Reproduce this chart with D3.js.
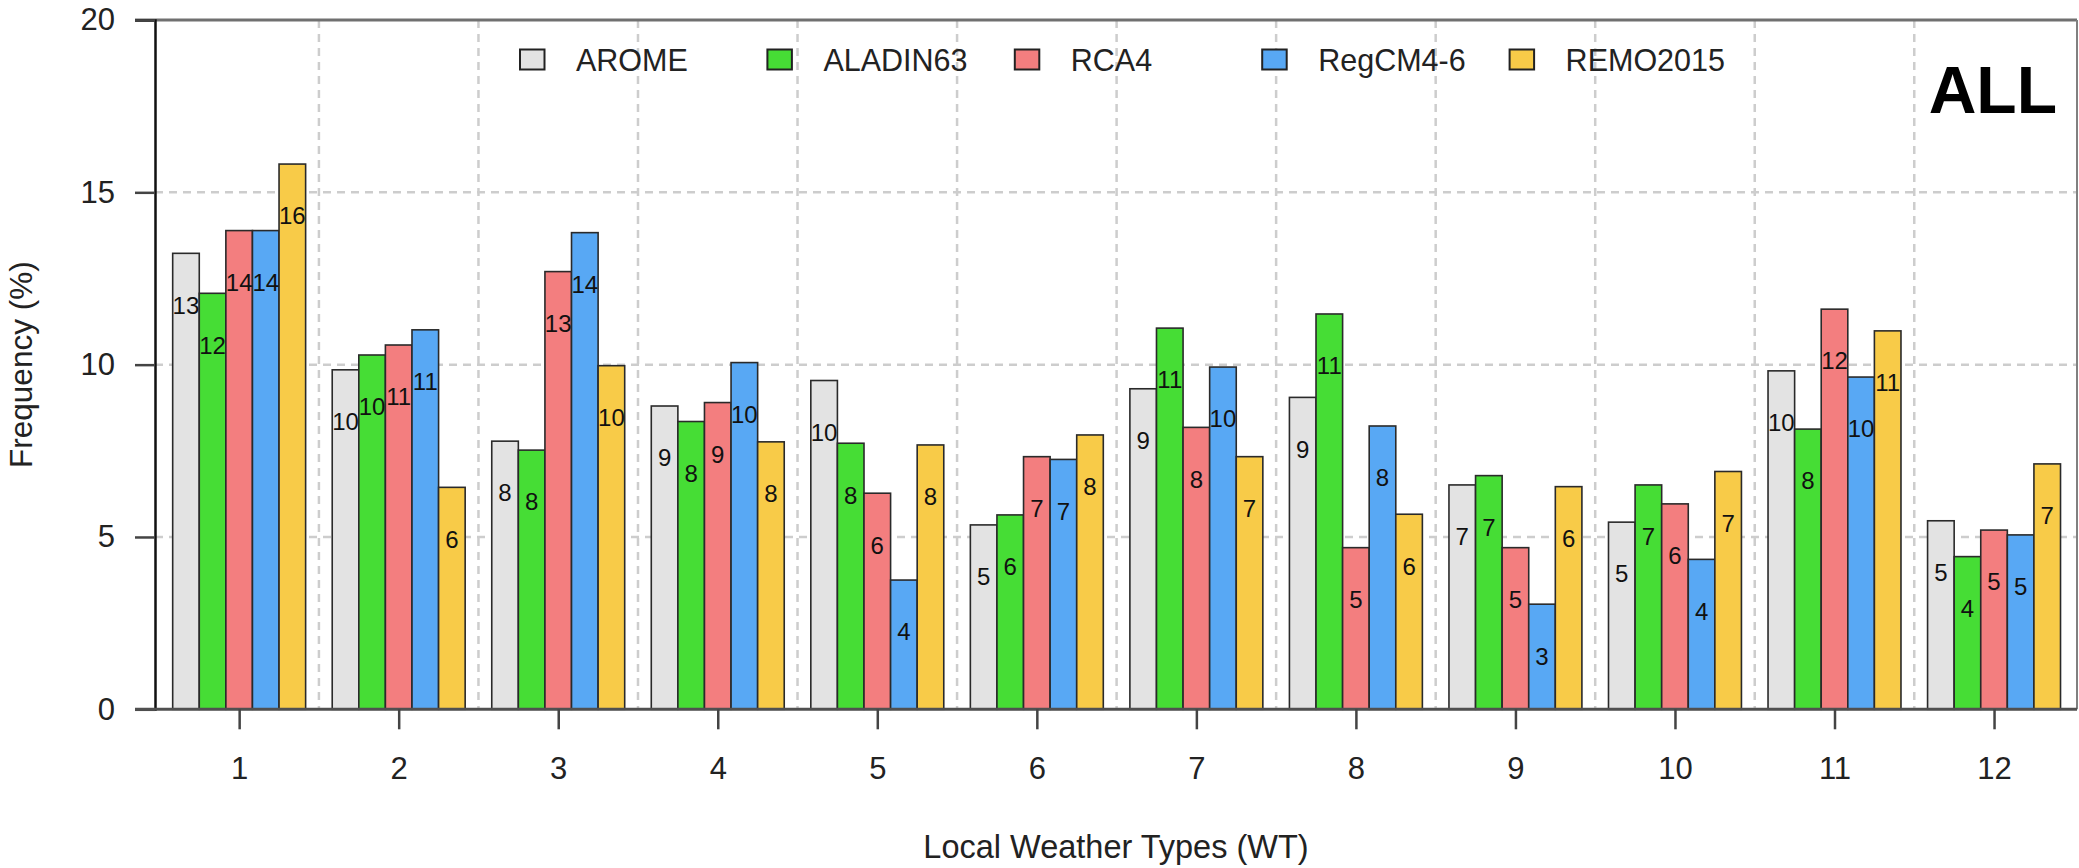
<!DOCTYPE html>
<html>
<head>
<meta charset="utf-8">
<script src="https://cdn.jsdelivr.net/npm/d3@7"></script>
<style>
  html, body { margin: 0; padding: 0; background: #fff; }
  svg { display: block; font-family: "Liberation Sans", Arial, sans-serif; }
</style>
</head>
<body>
<svg id="chart" width="2079" height="868"></svg>
<script>
// Local weather types and the five models compared
const weatherTypes = ["1", "2", "3", "4", "5", "6", "7", "8", "9", "10", "11", "12"];
const models = ["AROME", "ALADIN63", "RCA4", "RegCM4-6", "REMO2015"];
const modelColors = ["#e3e3e3", "#46dd35", "#f37e7f", "#58a8f4", "#f8cb48"];

// Frequency (%) of each weather type, one array per model
const arome    = [13.23, 9.85, 7.78, 8.80, 9.54, 5.35, 9.30, 9.05, 6.51, 5.43, 9.82, 5.47];
const aladin63 = [12.07, 10.28, 7.52, 8.35, 7.72, 5.64, 11.06, 11.47, 6.78, 6.51, 8.13, 4.43];
const rca4     = [13.89, 10.57, 12.70, 8.90, 6.27, 7.33, 8.18, 4.69, 4.69, 5.96, 11.61, 5.20];
const regcm46  = [13.89, 11.01, 13.83, 10.06, 3.75, 7.25, 9.93, 8.22, 3.05, 4.35, 9.64, 5.06];
const remo2015 = [15.82, 6.44, 9.97, 7.76, 7.67, 7.96, 7.33, 5.66, 6.46, 6.90, 10.98, 7.12];
const seriesValues = [arome, aladin63, rca4, regcm46, remo2015];

const yTicks = [0, 5, 10, 15, 20];
const panelLabel = "ALL";
const xTitle = "Local Weather Types (WT)";
const yTitle = "Frequency (%)";

const svg = d3.select("#chart");
const plotLeft = 155, plotRight = 2077, plotTop = 20, plotBottom = 709.3;

// Bars laid out in slot units: one empty slot, then five bars, per weather type
const slotsPerGroup = models.length + 1;
const x = d3.scaleLinear().domain([0.335, 72.62]).range([plotLeft, plotRight]);
const y = d3.scaleLinear().domain([0, 20]).range([plotBottom, plotTop]);

const barLeft = (g, i) => 1 + g * slotsPerGroup + i;
const groupCenter = g => 1 + g * slotsPerGroup + models.length / 2;

// Dashed grid
const grid = svg.append("g").attr("stroke", "#cdcdcd").attr("stroke-width", 2.5)
  .attr("stroke-dasharray", "8,6").attr("fill", "none");
grid.selectAll("line.h").data(yTicks.filter(v => v > 0 && v < 20)).join("line")
  .attr("class", "h")
  .attr("x1", plotLeft).attr("x2", plotRight).attr("y1", d => y(d)).attr("y2", d => y(d));
grid.selectAll("line.v").data(d3.range(1, weatherTypes.length)).join("line")
  .attr("class", "v")
  .attr("x1", g => x(g * slotsPerGroup + 0.5)).attr("x2", g => x(g * slotsPerGroup + 0.5))
  .attr("y1", plotTop).attr("y2", plotBottom);

// Bars
const barData = [];
weatherTypes.forEach((wt, g) => {
  models.forEach((m, i) => {
    barData.push({ g, i, v: seriesValues[i][g] });
  });
});
svg.append("g").selectAll("rect").data(barData).join("rect")
  .attr("x", d => x(barLeft(d.g, d.i)))
  .attr("width", d => x(barLeft(d.g, d.i) + 1) - x(barLeft(d.g, d.i)))
  .attr("y", d => y(d.v))
  .attr("height", d => y(0) - y(d.v))
  .attr("fill", d => modelColors[d.i])
  .attr("stroke", "#2a2a2a").attr("stroke-width", 1.6);

// Rounded value labels, placed a little below each bar top
svg.append("g").selectAll("text").data(barData).join("text")
  .attr("x", d => x(barLeft(d.g, d.i) + 0.5))
  .attr("y", d => y(d.v - 1.5))
  .attr("dy", "0.36em")
  .attr("text-anchor", "middle")
  .attr("font-size", 24)
  .attr("fill", "#111")
  .text(d => Math.round(d.v));

// Frame
svg.append("line").attr("x1", 135).attr("x2", plotRight).attr("y1", plotTop).attr("y2", plotTop)
  .attr("stroke", "#707070").attr("stroke-width", 3);
svg.append("line").attr("x1", plotRight).attr("x2", plotRight).attr("y1", plotTop).attr("y2", plotBottom)
  .attr("stroke", "#808080").attr("stroke-width", 2);

// Y axis
const yAxis = svg.append("g").attr("transform", `translate(${plotLeft},0)`)
  .call(d3.axisLeft(y).tickValues(yTicks).tickSize(20).tickPadding(20).tickFormat(d3.format("d")));
yAxis.select(".domain").attr("stroke", "#111").attr("stroke-width", 2.5);
yAxis.selectAll(".tick line").attr("stroke", "#444").attr("stroke-width", 2.5);
yAxis.selectAll(".tick text").attr("font-size", 31).attr("fill", "#222")
  .attr("font-family", "'Liberation Sans', Arial, sans-serif");

// X axis
const xAxis = svg.append("g").attr("transform", `translate(0,${plotBottom})`)
  .call(d3.axisBottom(x).tickValues(weatherTypes.map((w, g) => groupCenter(g)))
    .tickFormat((d, k) => weatherTypes[k]).tickSize(20).tickPadding(28));
xAxis.select(".domain").attr("stroke", "#505050").attr("stroke-width", 3)
  .attr("d", `M${135},0H${plotRight}`);
xAxis.selectAll(".tick line").attr("stroke", "#444").attr("stroke-width", 2.5);
xAxis.selectAll(".tick text").attr("font-size", 31).attr("fill", "#222")
  .attr("font-family", "'Liberation Sans', Arial, sans-serif");

// Axis titles
svg.append("text").attr("x", (plotLeft + plotRight) / 2).attr("y", 858)
  .attr("text-anchor", "middle").attr("font-size", 32.5).attr("fill", "#222").text(xTitle);
svg.append("text").attr("transform", `translate(32,${(plotTop + plotBottom) / 2}) rotate(-90)`)
  .attr("text-anchor", "middle").attr("font-size", 31.5).attr("fill", "#222").text(yTitle);

// Panel label
svg.append("text").attr("x", 2057).attr("y", 113).attr("text-anchor", "end")
  .attr("font-size", 66).attr("font-weight", "bold").attr("fill", "#000").text(panelLabel);

// Legend
const legend = svg.append("g").selectAll("g").data(models).join("g")
  .attr("transform", (d, i) => `translate(${520 + i * 247.4},0)`);
legend.append("rect").attr("x", 0).attr("y", 49.5).attr("width", 24.5).attr("height", 20)
  .attr("fill", (d, i) => modelColors[i]).attr("stroke", "#222").attr("stroke-width", 2);
legend.append("text").attr("x", 56).attr("y", 71).attr("font-size", 30.5).attr("fill", "#222")
  .text(d => d);
</script>
</body>
</html>
